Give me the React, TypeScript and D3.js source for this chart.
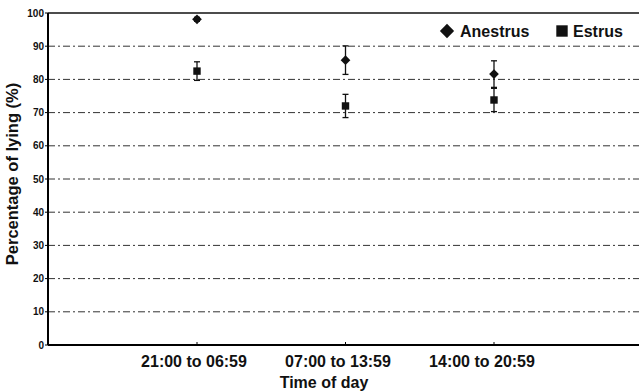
import React from "react";
import * as d3 from "d3";

const categories = ["21:00 to 06:59", "07:00 to 13:59", "14:00 to 20:59"];
const anestrusMean = [98.1, 85.8, 81.6];
const anestrusErr = [0.6, 4.3, 4.0];
const estrusMean = [82.5, 72.0, 73.8];
const estrusErr = [2.8, 3.5, 3.5];
const yTicks = [0, 10, 20, 30, 40, 50, 60, 70, 80, 90, 100];

const W = 639;
const H = 392;
const M = { left: 48, right: 639, top: 13, bottom: 345 };

export default function App() {
  const x = d3
    .scalePoint<string>()
    .domain(["_a", ...categories, "_b"])
    .range([M.left + 0.5, M.left + 0.5 + 148.5 * 4]);
  const xl = d3
    .scalePoint<string>()
    .domain(["_a", ...categories, "_b"])
    .range([M.left + 2, M.left + 2 + 144 * 4]);
  const y = d3.scaleLinear().domain([0, 100]).range([M.bottom, M.top]);
  const diamond = d3.symbol().type(d3.symbolDiamond2).size(60)() as string;
  const square = d3.symbol().type(d3.symbolSquare).size(55)() as string;
  const legDiamond = d3.symbol().type(d3.symbolDiamond2).size(130)() as string;
  const legSquare = d3.symbol().type(d3.symbolSquare).size(130)() as string;
  const font = "Liberation Sans, Arial, sans-serif";

  const errBar = (cx: number, m: number, e: number, key: string) => (
    <g key={key} stroke="#111" strokeWidth={1.3}>
      <line x1={cx} x2={cx} y1={y(m + e)} y2={y(m - e)} />
      <line x1={cx - 3} x2={cx + 3} y1={y(m + e)} y2={y(m + e)} />
      <line x1={cx - 3} x2={cx + 3} y1={y(m - e)} y2={y(m - e)} />
    </g>
  );

  return (
    <svg
      width={W}
      height={H}
      style={{ position: "absolute", left: 0, top: 0, background: "#fff" }}
      fontFamily={font}
    >
      {yTicks.slice(1, -1).map((t) => (
        <line
          key={"g" + t}
          x1={M.left}
          x2={M.right}
          y1={y(t)}
          y2={y(t)}
          stroke="#333"
          strokeWidth={1}
          strokeDasharray="7,3,2,3"
        />
      ))}
      <line x1={M.left} x2={M.right} y1={y(100)} y2={y(100)} stroke="#111" strokeWidth={1.5} />
      <line x1={M.left} x2={M.left} y1={y(100)} y2={y(0)} stroke="#000" strokeWidth={2} />
      <line x1={M.left} x2={M.right} y1={y(0)} y2={y(0)} stroke="#000" strokeWidth={2} />
      {yTicks.map((t) => (
        <g key={"t" + t}>
          <line x1={M.left - 3} x2={M.left} y1={y(t)} y2={y(t)} stroke="#000" strokeWidth={1} />
          <text
            x={M.left - 4}
            y={y(t)}
            dy="0.35em"
            textAnchor="end"
            fontSize={10}
            fontWeight="bold"
            fill="#111"
          >
            {t}
          </text>
        </g>
      ))}
      {categories.map((c) => (
        <g key={"x" + c}>
          <line x1={x(c)!} x2={x(c)!} y1={y(0)} y2={y(0) - 3} stroke="#000" />
          <text x={xl(c)!} y={367} textAnchor="middle" fontSize={16} fontWeight="bold" fill="#111">
            {c}
          </text>
        </g>
      ))}
      <text x={324} y={388} textAnchor="middle" fontSize={16} fontWeight="bold" fill="#111">
        Time of day
      </text>
      <text
        transform={`translate(18,174) rotate(-90)`}
        textAnchor="middle"
        fontSize={16.5}
        fontWeight="bold"
        fill="#111"
      >
        Percentage of lying (%)
      </text>

      {categories.map((c, i) => errBar(x(c)!, anestrusMean[i], anestrusErr[i], "ae" + i))}
      {categories.map((c, i) => errBar(x(c)!, estrusMean[i], estrusErr[i], "ee" + i))}
      {categories.map((c, i) => (
        <path key={"a" + i} d={diamond} transform={`translate(${x(c)},${y(anestrusMean[i])})`} fill="#111" />
      ))}
      {categories.map((c, i) => (
        <path key={"e" + i} d={square} transform={`translate(${x(c)},${y(estrusMean[i])})`} fill="#111" />
      ))}

      <path d={legDiamond} transform="translate(447,31)" fill="#111" />
      <text x={460} y={37} fontSize={16} fontWeight="bold" fill="#111">Anestrus</text>
      <path d={legSquare} transform="translate(562,31)" fill="#111" />
      <text x={573} y={37} fontSize={16} fontWeight="bold" fill="#111">Estrus</text>
    </svg>
  );
}
